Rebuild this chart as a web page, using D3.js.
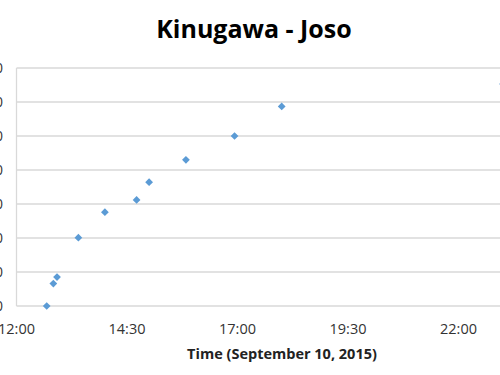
<!DOCTYPE html>
<html>
<head>
<meta charset="utf-8">
<script src="https://cdn.jsdelivr.net/npm/d3@7"></script>
<style>
  body { margin: 0; background: #fff; }
  svg { display: block; }
</style>
</head>
<body>
<script>
var svgWidth = 500;
var svgHeight = 375;

// observation times (September 10, 2015) and values
var times = ["12:41", "12:50", "12:55", "13:24", "14:00", "14:43", "15:00", "15:50", "16:56", "18:00"];
var values = [0, 6.6, 8.5, 20.1, 27.6, 31.2, 36.4, 43.0, 50.0, 58.7];

var xTickLabels = ["12:00", "14:30", "17:00", "19:30", "22:00", "0:30"];
var yTickValues = [0, 10, 20, 30, 40, 50, 60, 70];

var parseTime = d3.timeParse("%Y-%m-%d %H:%M");
var day = "2015-09-10 ";
var dataset = times.map((t, i) => ({ time: parseTime(day + t), value: values[i] }));

var xStart = parseTime(day + "12:00");
var xEnd = d3.timeMinute.offset(xStart, 12.5 * 60);

var plot = { left: 16.5, top: 68, bottom: 306 };
var font = "'Open Sans', Lato, sans-serif";

var xScale = d3.scaleTime()
    .domain([xStart, xEnd])
    .range([plot.left, plot.left + 12.5 * 44.2]);

var yScale = d3.scaleLinear()
    .domain([0, 70])
    .range([plot.bottom, plot.top]);

var xTicks = xTickLabels.map((l, i) => d3.timeMinute.offset(xStart, i * 150));

var svg = d3.select("body")
    .append("svg")
    .attr("width", svgWidth)
    .attr("height", svgHeight);

// horizontal gridlines
svg.selectAll(".grid")
    .data(yTickValues).enter()
    .append("line")
    .attr("x1", plot.left)
    .attr("x2", svgWidth + 20)
    .attr("y1", d => yScale(d))
    .attr("y2", d => yScale(d))
    .attr("stroke", "#d9d9d9")
    .attr("stroke-width", 1.3);

// left axis line
svg.append("line")
    .attr("x1", plot.left)
    .attr("x2", plot.left)
    .attr("y1", plot.top)
    .attr("y2", plot.bottom)
    .attr("stroke", "#d9d9d9")
    .attr("stroke-width", 1.3);

// y tick labels (mostly off the left edge, as in the source)
svg.selectAll(".ylab")
    .data(yTickValues).enter()
    .append("text")
    .attr("x", 3)
    .attr("y", d => yScale(d))
    .attr("dy", "0.35em")
    .attr("text-anchor", "end")
    .attr("font-family", font)
    .attr("font-size", 14)
    .attr("fill", "#333")
    .text(d => d);

// x tick labels
svg.selectAll(".xlab")
    .data(xTicks).enter()
    .append("text")
    .attr("x", d => xScale(d))
    .attr("y", 333.5)
    .attr("text-anchor", "middle")
    .attr("font-family", font)
    .attr("font-size", 14.5)
    .attr("fill", "#333")
    .text((d, i) => xTickLabels[i]);

// markers
var diamond = d3.symbol().type(d3.symbolSquare).size(30);
svg.selectAll(".pt")
    .data(dataset).enter()
    .append("path")
    .attr("d", diamond)
    .attr("transform", d => "translate(" + xScale(d.time) + "," + yScale(d.value) + ") rotate(45)")
    .attr("fill", "#5b9bd5");

// legend marker, clipped at the right edge
svg.append("path")
    .attr("d", diamond)
    .attr("transform", "translate(503,84) rotate(45)")
    .attr("fill", "#5b9bd5");

// title
svg.append("text")
    .attr("x", 254)
    .attr("y", 38)
    .attr("text-anchor", "middle")
    .attr("font-family", font)
    .attr("font-weight", "bold")
    .attr("font-size", 25)
    .attr("fill", "#000")
    .text("Kinugawa - Joso");

// x axis title
svg.append("text")
    .attr("x", 282)
    .attr("y", 359)
    .attr("text-anchor", "middle")
    .attr("font-family", font)
    .attr("font-weight", "bold")
    .attr("font-size", 14.5)
    .attr("fill", "#222")
    .text("Time (September 10, 2015)");
</script>
</body>
</html>
